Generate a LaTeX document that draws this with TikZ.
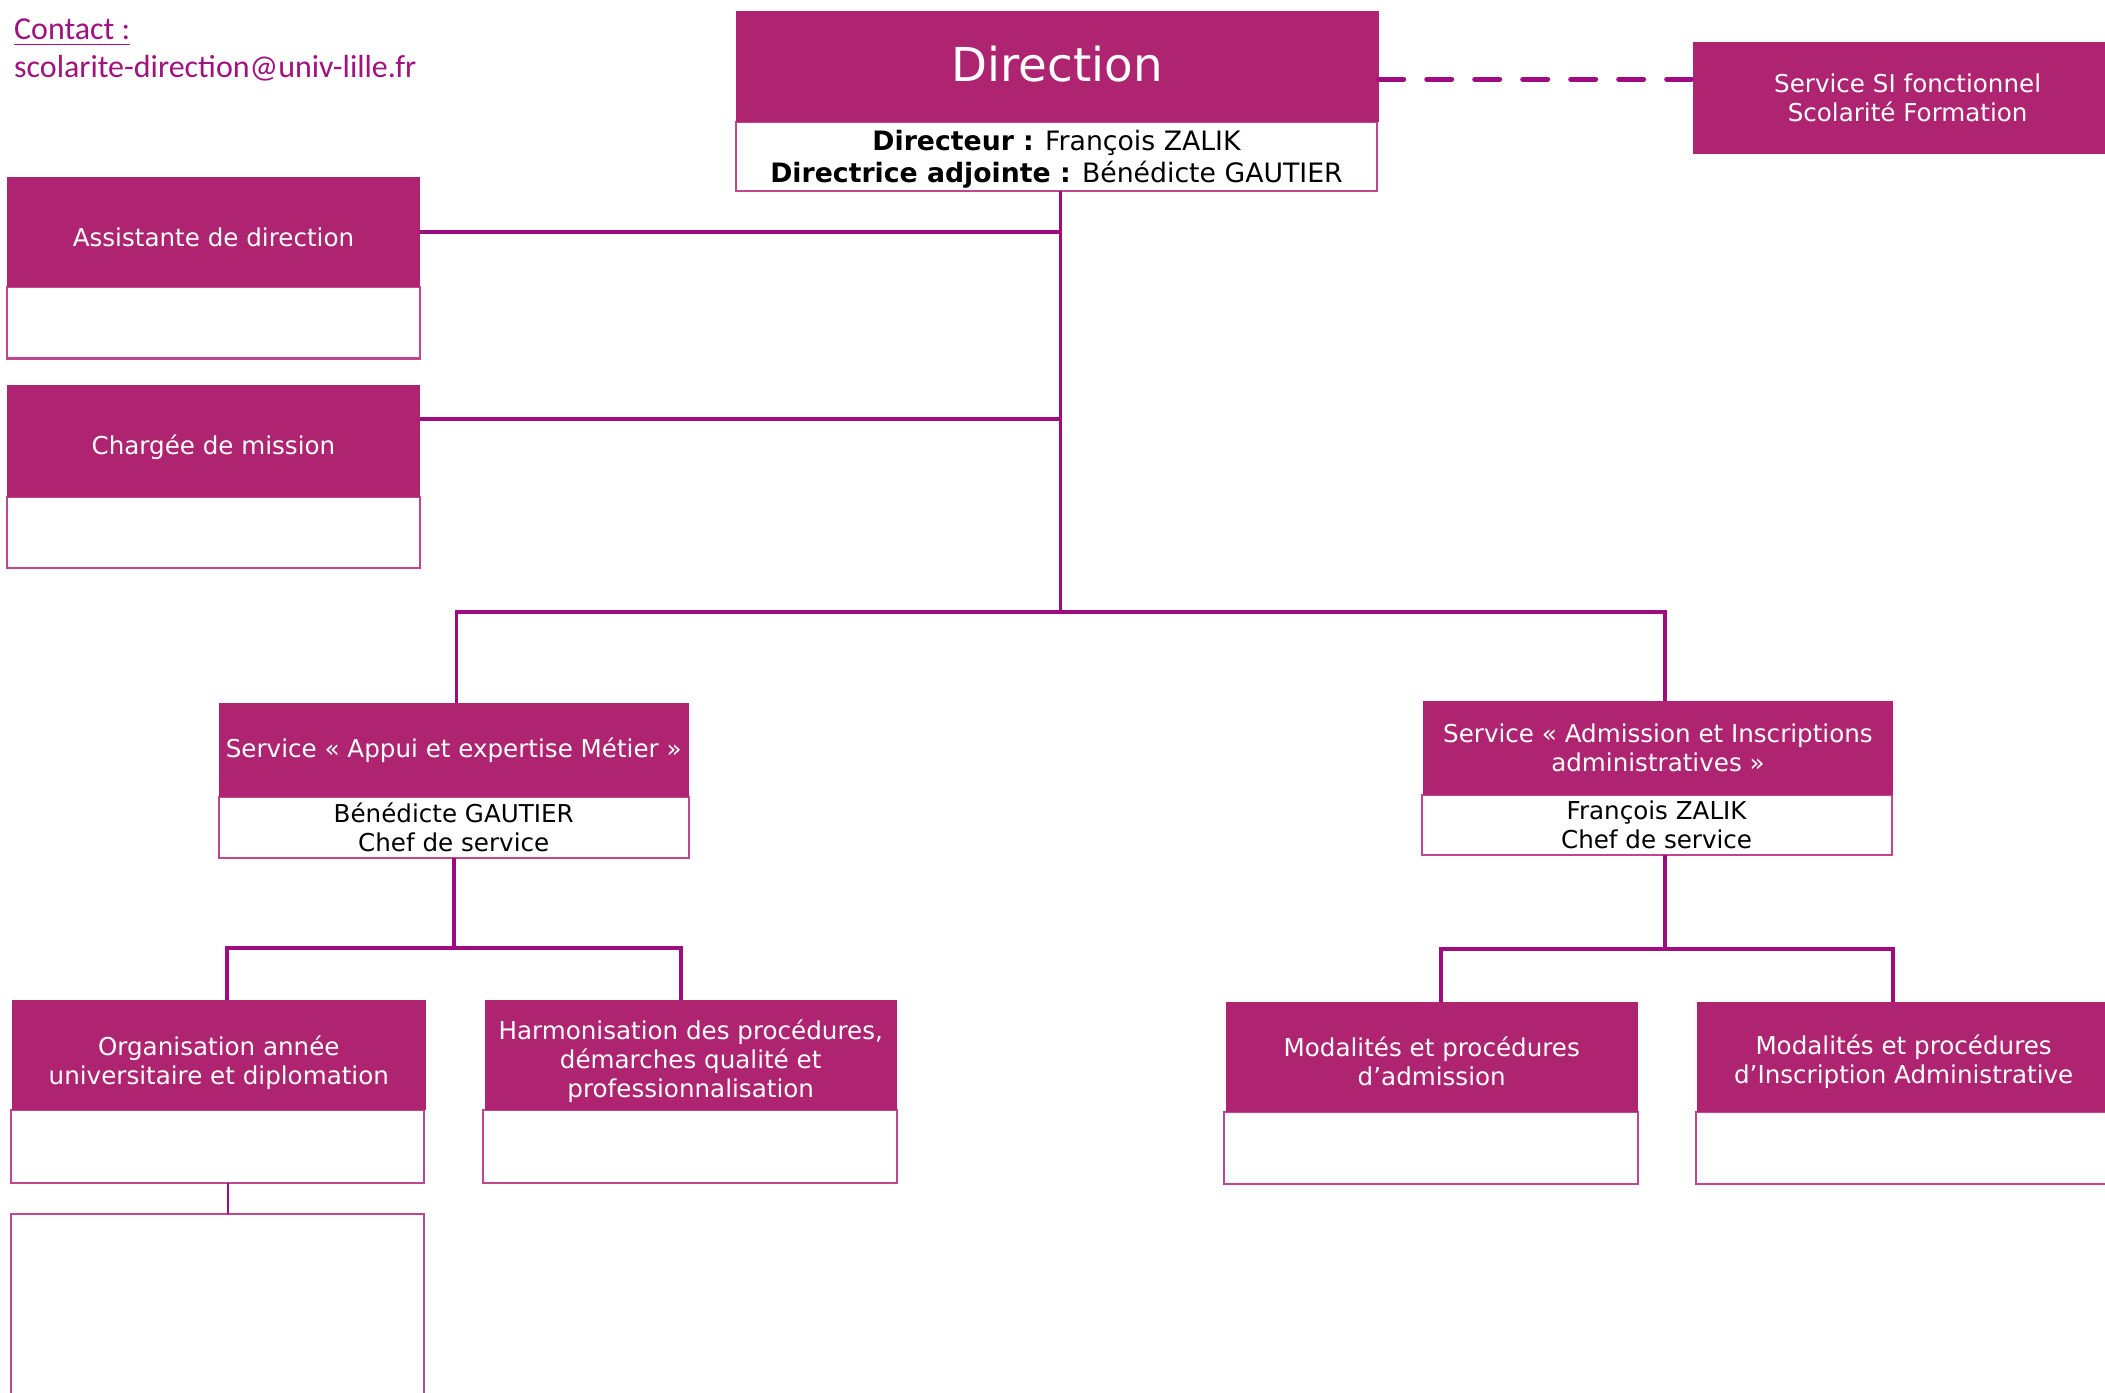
\documentclass[tikz,border=0pt]{standalone}
\usepackage{fontspec}
\setmainfont{DejaVu Sans}
\newfontfamily\contactfont{Carlito}
\definecolor{hdrfill}{HTML}{AE2471}
\definecolor{linec}{HTML}{9E0C7F}
\definecolor{boxline}{HTML}{C0478F}
\definecolor{contactc}{HTML}{A0137F}
\newlength\pxu
\setlength\pxu{0.013425cm}
\newcommand\topstrut[1]{\rule{0pt}{#1}}
\tikzset{
  hdr/.style={fill=hdrfill, text=white, inner sep=0pt, outer sep=0pt, anchor=north west, align=center, font=\fontsize{7}{8.3}\selectfont},
  bodybox/.style={draw=boxline, line width=0.6pt, fill=white, inner sep=0pt, outer sep=0pt, anchor=north west, align=center, font=\fontsize{7}{8.3}\selectfont},
  conn/.style={draw=linec, line width=1.1pt},
  thinconn/.style={draw=linec, line width=0.6pt},
  dashconn/.style={draw=linec, line width=1.4pt, line cap=round, dash pattern=on 0.25cm off 0.23cm},
  contacttxt/.style={text=contactc, inner sep=0pt, anchor=base west, font=\contactfont\fontsize{9.1}{11}\selectfont},
}
\begin{document}
\begin{tikzpicture}[x=0.013425cm, y=-0.013425cm]
\useasboundingbox[fill=white] (0,0) rectangle (1568,1036.9);

% contact
\node[contacttxt] (contact) at (10,29.5) {\underline{Contact :}};
\node[contacttxt] (email) at (10,58) {scolarite-direction@univ-lille.fr};

% Direction
\node[bodybox, minimum width=478\pxu, minimum height=51\pxu, font=\fontsize{7.6}{9.2}\selectfont] (dirb) at (548,91)
  {\topstrut{7.2pt}\textbf{Directeur :} François ZALIK\\\textbf{Directrice adjointe :} Bénédicte GAUTIER};
\node[hdr, minimum width=479\pxu, minimum height=83\pxu, text depth=1.5pt, font=\fontsize{13.3}{16}\selectfont] (dirh) at (548,8) {Direction};

% SI
\node[hdr, minimum width=320\pxu, minimum height=84\pxu] (si) at (1261,31) {Service SI fonctionnel\\Scolarité Formation};

% Assistante
\node[bodybox, minimum width=308\pxu, minimum height=53\pxu] (ab) at (5,214) {};
\node[hdr, minimum width=308\pxu, minimum height=82\pxu] (ah) at (5,132) {\topstrut{8.2pt}Assistante de direction};

% Chargee
\node[bodybox, minimum width=308\pxu, minimum height=53\pxu] (cb) at (5,370) {};
\node[hdr, minimum width=308\pxu, minimum height=83\pxu] (ch) at (5,287) {\topstrut{9.1pt}Chargée de mission};

% Appui
\node[bodybox, minimum width=350\pxu, minimum height=45\pxu] (appb) at (163,594) {Bénédicte GAUTIER\\Chef de service};
\node[hdr, minimum width=350\pxu, minimum height=70\pxu] (apph) at (163,524) {Service « Appui et expertise Métier »};

% Admission
\node[bodybox, minimum width=350\pxu, minimum height=45\pxu] (admb) at (1059,592) {François ZALIK\\Chef de service};
\node[hdr, minimum width=350\pxu, minimum height=70\pxu] (admh) at (1060,522) {Service « Admission et Inscriptions\\administratives »};

% Organisation
\node[bodybox, minimum width=308\pxu, minimum height=54\pxu] (orgb) at (8,827) {};
\node[hdr, minimum width=308\pxu, minimum height=82\pxu] (orgh) at (9,745) {\topstrut{9.9pt}Organisation année\\universitaire et diplomation};

% Harmonisation
\node[bodybox, minimum width=308\pxu, minimum height=54\pxu] (harmb) at (360,827) {};
\node[hdr, minimum width=307\pxu, minimum height=82\pxu] (harmh) at (361,745) {\topstrut{9.1pt}Harmonisation des procédures,\\démarches qualité et\\professionnalisation};

% Modalites admission
\node[bodybox, minimum width=308\pxu, minimum height=54\pxu] (mab) at (912,828) {};
\node[hdr, minimum width=307\pxu, minimum height=82\pxu] (mah) at (913,746) {\topstrut{8.4pt}Modalités et procédures\\d’admission};

% Modalites IA
\node[bodybox, minimum width=310\pxu, minimum height=54\pxu] (miab) at (1263,828) {};
\node[hdr, minimum width=308\pxu, minimum height=82\pxu] (miah) at (1264,746) {\topstrut{8.4pt}Modalités et procédures\\d’Inscription Administrative};

% extra box under Organisation
\node[bodybox, minimum width=308\pxu, minimum height=145\pxu] (extra) at (8,904) {};

% connectors
\coordinate (bus) at (790,456);
\coordinate (chc) at ([yshift=-25\pxu]ch.north east);
\coordinate (bus2) at (338,706);
\coordinate (bus3) at (1240,707);
\coordinate (dl) at (1100,59);

\draw[dashconn] (dirh.east |- dl) -- (si.west |- dl);
\draw[conn] ([xshift=3\pxu]dirb.south) -- (bus);
\draw[conn] (ah.east) -- (ah.east -| bus);
\draw[conn] (chc) -- (chc -| bus);
\draw[conn] ([xshift=2\pxu]apph.north) |- (bus) -| ([xshift=5\pxu]admh.north);
\draw[conn] (appb.south) -- (bus2);
\draw[conn] ([xshift=6\pxu]orgh.north) |- (bus2) -| ([xshift=-7\pxu]harmh.north);
\draw[conn] ([xshift=6\pxu]admb.south) -- (bus3);
\draw[conn] ([xshift=7\pxu]mah.north) |- (bus3) -| ([xshift=-8\pxu]miah.north);
\draw[thinconn] ([xshift=8\pxu]orgb.south) -- ([xshift=8\pxu]extra.north);
\end{tikzpicture}
\end{document}
